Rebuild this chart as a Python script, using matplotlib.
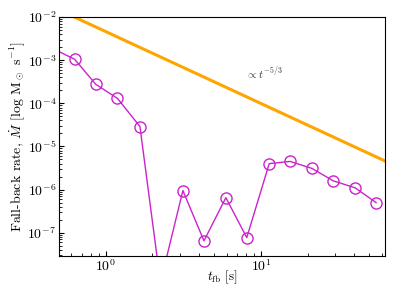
import matplotlib
matplotlib.use("Agg")
import matplotlib.pyplot as plt
import numpy as np

plt.rcParams["font.family"] = "serif"
plt.rcParams["font.serif"] = ["cmr10"]
plt.rcParams["mathtext.fontset"] = "cm"
plt.rcParams["axes.formatter.use_mathtext"] = True

# fall-back time [s] and rate
t_fb = [0.45, 0.63, 0.862, 1.19, 1.66, 2.25, 3.14, 4.29, 5.94, 8.1,
        11.3, 15.4, 21.3, 29.2, 40.4, 55.2]
mdot = [1.9e-3, 1.05e-3, 2.76e-4, 1.3e-4, 2.9e-5, 7e-9, 9.5e-7, 6.5e-8,
        6.5e-7, 7.7e-8, 4.0e-6, 4.5e-6, 3.1e-6, 1.6e-6, 1.1e-6, 5.0e-7]

# reference power law ~ t^(-5/3)
t_ref = [0.4, 70.0]
norm = 4.6e-3
slope = -5.0 / 3.0

fig, ax = plt.subplots(figsize=(3.99, 2.99), dpi=100)
fig.subplots_adjust(left=0.148, right=0.965, top=0.943, bottom=0.144)

ax.loglog(t_fb, mdot, color="#cc22cc", lw=1.0, marker="o", ms=8,
          mfc="none", mec="#cc22cc", mew=1.0)
ax.loglog(t_ref, norm * np.array(t_ref) ** slope, color="orange", lw=2.2)

ax.text(0.575, 0.745, r"$\propto t^{-5/3}$", transform=ax.transAxes,
        fontsize=8, color="#333333")

ax.set_xlim(0.5, 63)
ax.set_ylim(2.9e-8, 1e-2)
ax.tick_params(which="both", direction="in", top=False, right=False,
               labelsize=10, pad=2)
ax.set_xlabel(r"$t_{\rm fb}$ [s]", fontsize=9.5, labelpad=-4)
ax.set_ylabel(r"Fall-back rate, $\dot{M}$ [log M$_\odot$ s$^{-1}$]",
              fontsize=10, labelpad=0)

fig.savefig("out.png", dpi=100)
